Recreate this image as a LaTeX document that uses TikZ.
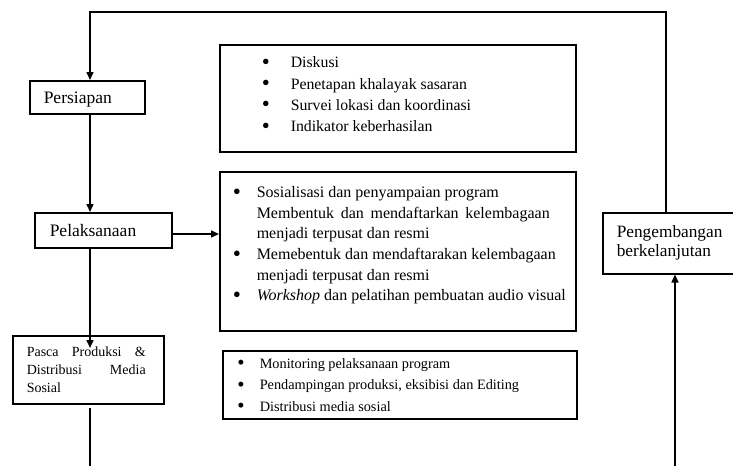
\documentclass[tikz,border=0pt]{standalone}
\usepackage{fontspec}
\setmainfont{Liberation Serif}
\usetikzlibrary{arrows.meta}
\newcommand\inbox[4]{\parbox[c][#2pt][t]{#1pt}{\vspace*{\dimexpr#3pt-0.7\baselineskip\relax}\raggedright\parindent=0pt\strut #4}}
\newcommand\bl[2]{\hspace*{#1pt}\makebox[#2pt][l]{\raisebox{-0.1em}{\scalebox{1.45}{\textbullet}}}}
\begin{document}
\begin{tikzpicture}[x=1pt,y=-1pt,
  box/.style={draw,line width=1.5pt,inner sep=0pt,anchor=north west},
  conn/.style={line width=1.5pt},
  arr/.style={conn,-{Triangle[length=8pt,width=7pt]}}]
\useasboundingbox (0,0) rectangle (733,466);

% left column boxes
\node[box] (pers) at (29,80) {\fontsize{17.5}{19}\selectfont\inbox{115}{33}{23}{\hspace*{14pt}Persiapan}};
\node[box] (pel) at (34,212) {\fontsize{17.5}{19}\selectfont\inbox{137}{35}{23.5}{\hspace*{15pt}Pelaksanaan}};
\node[box] (pasca) at (12,335) {\fontsize{14}{18}\selectfont\inbox{151}{68}{21}{%
  \hspace*{14pt}\makebox[119pt][s]{Pasca Produksi \&}\\
  \hspace*{14pt}\makebox[119pt][s]{Distribusi Media}\\
  \hspace*{14pt}Sosial}};

% right box
\node[box] (peng) at (602,212) {\fontsize{17.3}{18.5}\selectfont\inbox{150}{61}{25}{%
  \hspace*{14pt}Pengembangan\\
  \hspace*{14pt}berkelanjutan}};

% content boxes
\node[box] (disk) at (219,44) {\fontsize{15.8}{21.3}\selectfont\inbox{356}{107}{23}{%
  \bl{42.1}{28.9}Diskusi\\
  \bl{42.1}{28.9}Penetapan khalayak sasaran\\
  \bl{42.1}{28.9}Survei lokasi dan koordinasi\\
  \bl{42.1}{28.9}Indikator keberhasilan}};

\node[box] (big) at (219,171) {\fontsize{16}{20.6}\selectfont\inbox{356}{159}{26}{%
  \bl{13.1}{23.9}Sosialisasi dan penyampaian program\\
  \hspace*{37pt}\makebox[293pt][s]{Membentuk dan mendaftarkan kelembagaan}\\
  \hspace*{37pt}menjadi terpusat dan resmi\\
  \bl{13.1}{23.9}Memebentuk dan mendaftarakan kelembagaan\\
  \hspace*{37pt}menjadi terpusat dan resmi\\
  \bl{13.1}{23.9}\textit{Workshop} dan pelatihan pembuatan audio visual}};

\node[box] (mon) at (222,350) {\fontsize{14.3}{21.5}\selectfont\inbox{354}{68}{17.5}{%
  \bl{14.5}{22.5}Monitoring pelaksanaan program\\
  \bl{14.5}{22.5}Pendampingan produksi, eksibisi dan Editing\\
  \bl{14.5}{22.5}Distribusi media sosial}};

% connector coordinates
\coordinate (tl) at (90,12);
\coordinate (tr) at (666,12);
\coordinate (pt) at (90,348);
\coordinate (pb) at (90,408);
\coordinate (b1) at (90,466);
\coordinate (b2) at (675,466);
\coordinate (ay) at (0,234);

\draw[arr] (peng.north -| tr) -- (tr) -- (tl) -- (pers.north -| tl);
\draw[arr] (pers.south -| tl) -- (pel.north -| tl);
\draw[arr] (pel.east |- ay) -- (big.west |- ay);
\draw[arr] (pel.south -| tl) -- (pt);
\draw[conn] (pb) -- (b1);
\draw[arr] (b2) -- (peng.south -| b2);
\end{tikzpicture}
\end{document}
